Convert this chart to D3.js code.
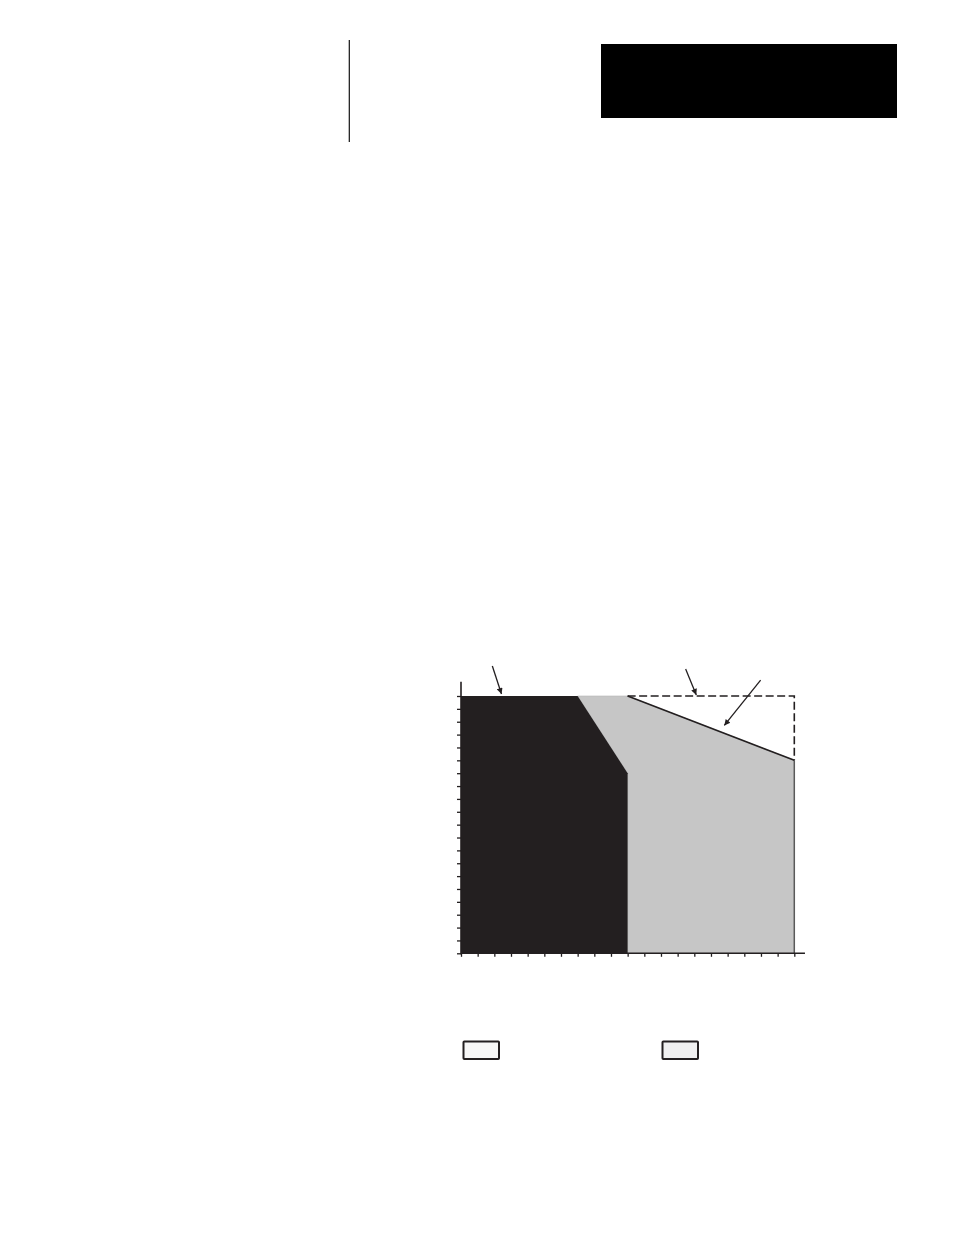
<!DOCTYPE html>
<html>
<head>
<meta charset="utf-8">
<script src="https://cdn.jsdelivr.net/npm/d3@7"></script>
<style>
html,body{margin:0;padding:0;background:#fff;}
svg{display:block;}
</style>
</head>
<body>
<svg id="chart" width="954" height="1235"></svg>
<script>
// ---- data (chart units: x 0..20, y 0..20) ----
const xDomain = [0, 20];
const yDomain = [0, 20];
const tickCount = 20;
const axisXEnd = 20.64;   // x-axis line runs slightly past last tick
const axisYEnd = 21.1;    // y-axis line runs slightly above top tick

// dark region (full rating)
const darkX = [0, 0, 7, 10, 10];
const darkY = [0, 20, 20, 14, 0];
// grey region (derated extension)
const greyX = [7, 10, 20, 20, 10, 10];
const greyY = [20, 20, 15, 0, 0, 14];
// dashed outline (rated envelope)
const dashX = [10, 20, 20];
const dashY = [20, 20, 15];
// derating line
const derateX = [10, 20];
const derateY = [20, 15];
// annotation arrows: [x1, y1, x2(tip), y2(tip)]
const arrowStartX = [1.88, 13.48, 17.98];
const arrowStartY = [22.33, 22.1, 21.24];
const arrowTipX = [2.43, 14.12, 15.8];
const arrowTipY = [20.15, 20.08, 17.71];

// ---- drawing ----
const svg = d3.select("#chart");
const dark = "#231f20", grey = "#c6c6c6";

// header decorations
svg.append("line").attr("x1", 349.3).attr("x2", 349.3).attr("y1", 40).attr("y2", 142)
  .attr("stroke", "#111").attr("stroke-width", 1.2);
svg.append("rect").attr("x", 601).attr("y", 44).attr("width", 296).attr("height", 74).attr("fill", "#000");

const x = d3.scaleLinear().domain(xDomain).range([461, 794.3]);
const y = d3.scaleLinear().domain(yDomain).range([953.3, 696]);

const pts = (xs, ys) => xs.map((v, i) => [x(v), y(ys[i])]);
const line = d3.line();

svg.append("defs").append("marker")
  .attr("id", "ah").attr("viewBox", "0 0 10 10").attr("refX", 10).attr("refY", 5)
  .attr("markerWidth", 9).attr("markerHeight", 6).attr("markerUnits", "userSpaceOnUse")
  .attr("orient", "auto")
  .append("path").attr("d", "M0,0 L10,5 L0,10 Z").attr("fill", dark);

// regions
svg.append("path").attr("d", line(pts(greyX, greyY)) + "Z").attr("fill", grey)
  .attr("stroke", "#b5b5b5").attr("stroke-width", 0.6);
svg.append("path").attr("d", line(pts(darkX, darkY)) + "Z").attr("fill", dark);

// grey right edge
svg.append("line").attr("x1", x(20)).attr("x2", x(20)).attr("y1", y(15)).attr("y2", y(0))
  .attr("stroke", "#5a5a5a").attr("stroke-width", 1.5);

// dashed envelope
svg.append("path").attr("d", line(pts(dashX, dashY))).attr("fill", "none")
  .attr("stroke", dark).attr("stroke-width", 1.6).attr("stroke-dasharray", "8,3.5");

// derating line
svg.append("path").attr("d", line(pts(derateX, derateY))).attr("fill", "none")
  .attr("stroke", dark).attr("stroke-width", 1.6);

// axes ticks
const yAxis = d3.axisLeft(y).ticks(tickCount).tickSize(4).tickSizeOuter(0).tickFormat("");
const gy = svg.append("g").attr("transform", `translate(${x(0)},0)`).call(yAxis);
gy.select(".domain").remove();
gy.selectAll("line").attr("stroke", dark).attr("stroke-width", 1.3);

const xAxis = d3.axisBottom(x).ticks(tickCount).tickSize(3.5).tickSizeOuter(0).tickFormat("");
const gx = svg.append("g").attr("transform", `translate(0,${y(0)})`).call(xAxis);
gx.select(".domain").remove();
gx.selectAll("line").attr("stroke", dark).attr("stroke-width", 1.3);

// axis lines
svg.append("line").attr("x1", x(0)).attr("x2", x(0)).attr("y1", y(axisYEnd)).attr("y2", y(0) + 1)
  .attr("stroke", dark).attr("stroke-width", 1.6);
svg.append("line").attr("x1", x(0)).attr("x2", x(axisXEnd)).attr("y1", y(0)).attr("y2", y(0))
  .attr("stroke", dark).attr("stroke-width", 1.5);

// arrows
svg.append("g").selectAll("line").data(arrowStartX).join("line")
  .attr("x1", (d, i) => x(arrowStartX[i])).attr("y1", (d, i) => y(arrowStartY[i]))
  .attr("x2", (d, i) => x(arrowTipX[i])).attr("y2", (d, i) => y(arrowTipY[i]))
  .attr("stroke", dark).attr("stroke-width", 1.3).attr("marker-end", "url(#ah)");

// legend swatches
const legendFill = ["#f7f7f7", "#f0f0f0"];
const legendX = [463.5, 662.5];
svg.append("g").selectAll("rect").data(legendFill).join("rect")
  .attr("x", (d, i) => legendX[i]).attr("y", 1041.5).attr("width", 35.5).attr("height", 17.5)
  .attr("fill", d => d).attr("stroke", dark).attr("stroke-width", 2).attr("rx", 0.8);
</script>
</body>
</html>
